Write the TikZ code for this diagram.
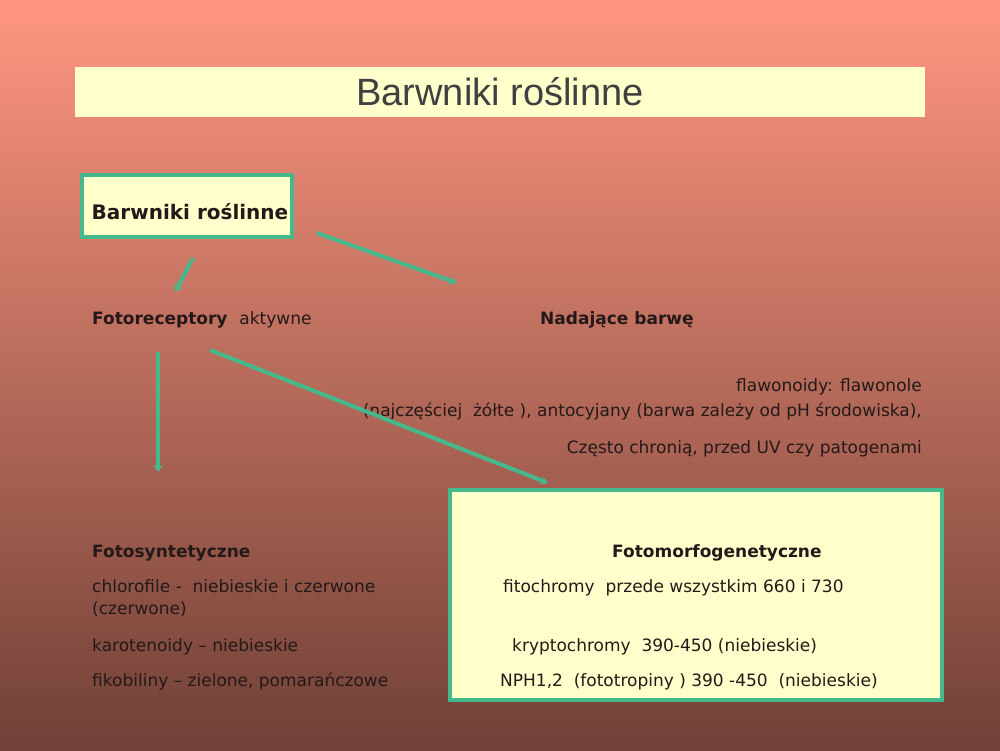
\documentclass[tikz,border=0pt]{standalone}
\usepackage{fontspec}
\setmainfont{DejaVu Sans}
\newfontfamily\titlefont{Liberation Sans}
\usepackage{tikz}
\usetikzlibrary{positioning}
\usetikzlibrary{arrows.meta}
\definecolor{bgtop}{RGB}{255,150,128}
\definecolor{bgmid}{RGB}{212,121,100}
\definecolor{bgbot}{RGB}{112,64,54}
\definecolor{paleyellow}{RGB}{255,255,204}
\definecolor{myteal}{RGB}{70,185,140}
\definecolor{inkdark}{RGB}{35,25,25}

\begin{document}
\begin{tikzpicture}[x=1pt,y=-1pt]
	\shade[top color=bgtop, middle color=bgmid, bottom color=bgbot] (0,0) rectangle (1000,750);
	\useasboundingbox (0,0) rectangle (1000,750);

	\node[fill=paleyellow, minimum width=850, minimum height=50, inner sep=0,
	      text=black!75, font=\titlefont\fontsize{38}{40}\selectfont] (title) at (500,92) {Barwniki roślinne};

	\begin{scope}[every node/.style={fill=paleyellow, draw=myteal, line width=4pt, inner sep=0}]
	    \node[minimum width=210, minimum height=62, text=inkdark, text height=27pt, text depth=0pt,
	          font=\bfseries\fontsize{20}{22}\selectfont] (root) at (187,206) {\hspace{6pt}Barwniki roślinne};
	    \node[minimum width=492, minimum height=210] (morfbox) at (696,595) {};
	\end{scope}

	\begin{scope}[every node/.style={anchor=base west, inner sep=0, text=inkdark, font=\fontsize{17}{20}\selectfont}]
	    \node (fotorec) at (92,324) {\bfseries Fotoreceptory\ \ \mdseries aktywne};
	    \node (barwa) at (540,324) {\bfseries Nadające barwę};
	    \node[anchor=base east] (flaw1) at (922,391) {flawonoidy: flawonole};
	    \node[anchor=base east] (flaw2) at (922,416) {(najczęściej \ żółte ), antocyjany (barwa zależy od pH środowiska),};
	    \node[anchor=base east] (flaw3) at (922,453) {Często chronią, przed UV czy patogenami};
	    \node (fotosyn) at (92,557) {\bfseries Fotosyntetyczne};
	    \node (chl1) at (92,592) {chlorofile - \ niebieskie i czerwone};
	    \node (chl2) at (92,614) {(czerwone)};
	    \node (karot) at (92,651) {karotenoidy – niebieskie};
	    \node (fikob) at (92,686) {fikobiliny – zielone, pomarańczowe};
	    \node (fotomorf) at (612,557) {\bfseries Fotomorfogenetyczne};
	    \node (fitoch) at (503,592) {fitochromy \ przede wszystkim 660 i 730};
	    \node (krypt) at (512,651) {kryptochromy \ 390-450 (niebieskie)};
	    \node (nph) at (500,686) {NPH1,2 \ (fototropiny ) 390 -450 \ (niebieskie)};
	\end{scope}

	\coordinate (rootA) at (193,258);
	\coordinate (recepA) at (175,292);
	\coordinate (rootB) at (317,233);
	\coordinate (barwaB) at (457,283);
	\coordinate (recepC) at (158,352);
	\coordinate (synC) at (158,472);
	\coordinate (recepD) at (210,350);
	\coordinate (morfD) at (548,483);

	\begin{scope}[>={Stealth[length=7pt,width=9pt]},
	              every path/.style={draw=myteal, line width=4pt}]
	    \draw[->] (rootA) -- (recepA);
	    \draw[->] (rootB) -- (barwaB);
	    \draw[->] (recepC) -- (synC);
	    \draw[->] (recepD) -- (morfD);
	\end{scope}
\end{tikzpicture}
\end{document}
